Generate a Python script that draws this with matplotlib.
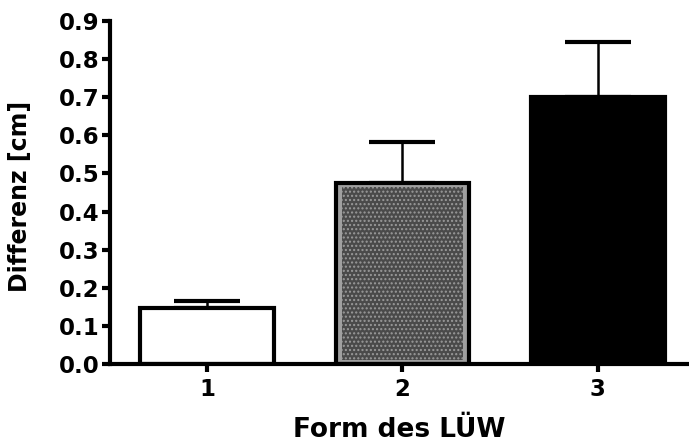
import matplotlib

matplotlib.use("Agg")

import matplotlib.pyplot as plt
import numpy as np

# data
groups = ["1", "2", "3"]
means = [0.148, 0.475, 0.70]
upper_err = [0.016, 0.107, 0.145]
y_ticks = [0.0, 0.1, 0.2, 0.3, 0.4, 0.5, 0.6, 0.7, 0.8, 0.9]

plt.rcParams["font.family"] = ["DejaVu Sans"]
plt.rcParams["font.weight"] = "bold"

fig = plt.figure(figsize=(6.89, 4.46), dpi=100)
ax = fig.add_axes([0.160, 0.184, 0.838, 0.769])

x = np.arange(1, len(groups) + 1)
width = 0.685
faces = ["white", "#a0a0a0", "black"]

ax.errorbar(x, means, yerr=[np.zeros(len(means)), upper_err], fmt="none",
            ecolor="black", elinewidth=1.8, capsize=24, capthick=3, zorder=1)
ax.bar(x, means, width=width, color=faces, edgecolor="black", linewidth=3, zorder=2)
# speckled dark core of the middle bar, lighter rim left visible
ax.bar(x[1], means[1] - 0.022, bottom=0.01, width=width * 0.9, color="#4a4a4a",
       edgecolor="#9a9a9a", hatch="....", linewidth=0, zorder=3)

ax.set_xlim(0.504, 3.46)
ax.set_ylim(0, 0.9)
ax.set_xticks(x)
ax.set_xticklabels(groups)
ax.set_yticks(y_ticks)
ax.set_yticklabels([f"{v:.1f}" for v in y_ticks])

for side in ("top", "right"):
    ax.spines[side].set_visible(False)
for side in ("left", "bottom"):
    ax.spines[side].set_linewidth(3)
ax.spines["left"].set_bounds(0, 0.9)

ax.tick_params(axis="both", direction="out", length=6, width=3, labelsize=16.5, pad=2)
ax.tick_params(axis="x", pad=4)
ax.set_xlabel("Form des LÜW", fontsize=19, fontweight="bold", labelpad=12)
ax.set_ylabel("Differenz [cm]", fontsize=17, fontweight="bold")
ax.yaxis.set_label_coords(-0.135, 0.488)

fig.savefig("out.png", dpi=100)
